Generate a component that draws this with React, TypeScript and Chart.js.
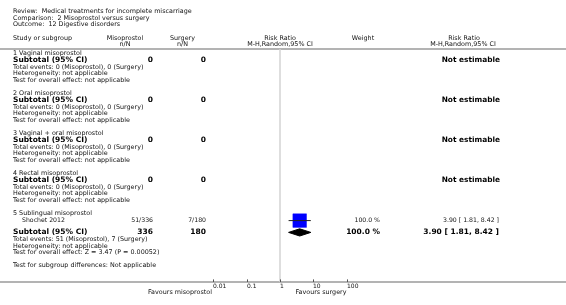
import { useEffect, useRef } from "react";
import { Chart, registerables } from "chart.js";

Chart.register(...registerables);

// ---------------- data ----------------
const titleLines = [
  "Review:  Medical treatments for incomplete miscarriage",
  "Comparison:  2 Misoprostol versus surgery",
  "Outcome:  12 Digestive disorders",
];
const groupLabel1 = "Misoprostol";
const groupLabel2 = "Surgery";

const subgroupNames = [
  "1 Vaginal misoprostol",
  "2 Oral misoprostol",
  "3 Vaginal + oral misoprostol",
  "4 Rectal misoprostol",
  "5 Sublingual misoprostol",
];
const subgroupTotalMiso = [0, 0, 0, 0, 336];
const subgroupTotalSurg = [0, 0, 0, 0, 180];
const subgroupEventsMiso = [0, 0, 0, 0, 51];
const subgroupEventsSurg = [0, 0, 0, 0, 7];
const subgroupHeterogeneity = [
  "not applicable",
  "not applicable",
  "not applicable",
  "not applicable",
  "not applicable",
];
const subgroupOverallEffect = [
  "not applicable",
  "not applicable",
  "not applicable",
  "not applicable",
  "Z = 3.47 (P = 0.00052)",
];
const subgroupRR: (number | null)[] = [null, null, null, null, 3.9];
const subgroupLo: (number | null)[] = [null, null, null, null, 1.81];
const subgroupHi: (number | null)[] = [null, null, null, null, 8.42];
const subgroupWeight: (number | null)[] = [null, null, null, null, 100.0];

const studyNames = ["Shochet 2012"];
const studyGroup = [4];
const studyEventsMiso = [51];
const studyTotalMiso = [336];
const studyEventsSurg = [7];
const studyTotalSurg = [180];
const studyRR = [3.9];
const studyLo = [1.81];
const studyHi = [8.42];
const studyWeight = [100.0];

const tickValues = [0.01, 0.1, 1, 10, 100];
const tickLabels = ["0.01", "0.1", "1", "10", "100"];
const subgroupDiffText = "Test for subgroup differences: Not applicable";
const favoursLeft = "Favours misoprostol";
const favoursRight = "Favours surgery";

// ---------------- layout ----------------
const W = 566;
const H = 305;
const PX_PER_DECADE = 33.3;
const NULL_PX = 280;
const X_MIN = Math.pow(10, -NULL_PX / PX_PER_DECADE);
const X_MAX = Math.pow(10, (W - NULL_PX) / PX_PER_DECADE);

const HEADER_RULE_Y = 49;
const AXIS_RULE_Y = 282;
const GROUP_Y = [53.3, 93.3, 133.3, 173.3, 213.8];
const STUDY_ROW_GAP = 6.8;
const FONT = '"DejaVu Sans", Verdana, sans-serif';

function fmt(n: number) {
  return n.toFixed(2);
}

function groupRows(g: number) {
  const top = GROUP_Y[g];
  const nStudies = studyGroup.filter((s) => s === g).length;
  const studyStart = top + STUDY_ROW_GAP;
  const sub = nStudies > 0 ? studyStart + STUDY_ROW_GAP * (nStudies - 1) + 11.8 : top + 6.7;
  return {
    top,
    studyStart,
    sub,
    total: sub + 7,
    het: sub + 13.8,
    test: sub + 20.2,
  };
}

function studyY(i: number) {
  const g = studyGroup[i];
  const idx = studyGroup.slice(0, i).filter((s) => s === g).length;
  return groupRows(g).studyStart + idx * STUDY_ROW_GAP;
}

export default function App() {
  const ref = useRef<HTMLCanvasElement | null>(null);

  useEffect(() => {
    if (!ref.current) return;

    const datasets: any[] = [];
    // CI lines (drawn on top of squares)
    studyNames.forEach((_, i) => {
      const y = studyY(i);
      datasets.push({
        data: [
          { x: studyLo[i], y },
          { x: studyHi[i], y },
        ],
        showLine: true,
        borderColor: "#222",
        borderWidth: 1,
        pointRadius: 0,
      });
    });
    // squares
    studyNames.forEach((_, i) => {
      const y = studyY(i);
      datasets.push({
        data: [{ x: studyRR[i], y }],
        pointStyle: "rect",
        pointRadius: 9.6 * Math.sqrt(studyWeight[i] / 100),
        backgroundColor: "#0000ff",
        borderColor: "#0000ff",
        borderWidth: 0.5,
      });
    });
    // diamonds
    subgroupRR.forEach((rr, g) => {
      if (rr == null) return;
      const y = groupRows(g).sub;
      const lo = subgroupLo[g] as number;
      const hi = subgroupHi[g] as number;
      datasets.push({
        data: [
          { x: lo, y },
          { x: rr, y: y - 3.6 },
          { x: hi, y },
          { x: rr, y: y + 3.6 },
          { x: lo, y },
        ],
        showLine: true,
        fill: "shape",
        backgroundColor: "#000",
        borderColor: "#000",
        borderWidth: 1,
        pointRadius: 0,
        tension: 0,
      });
    });
    // null line
    datasets.push({
      data: [
        { x: 1, y: HEADER_RULE_Y },
        { x: 1, y: AXIS_RULE_Y },
      ],
      showLine: true,
      borderColor: "#d4d4d4",
      borderWidth: 1.5,
      pointRadius: 0,
    });
    // header rule & axis rule
    [HEADER_RULE_Y, AXIS_RULE_Y].forEach((y) => {
      datasets.push({
        data: [
          { x: X_MIN, y },
          { x: X_MAX, y },
        ],
        showLine: true,
        borderColor: "#9a9a9a",
        borderWidth: 1.5,
        pointRadius: 0,
      });
    });

    const textPlugin = {
      id: "forestText",
      afterDraw(chart: any) {
        const ctx: CanvasRenderingContext2D = chart.ctx;
        const xs = chart.scales.x;
        const ys = chart.scales.y;
        const Y = (v: number) => ys.getPixelForValue(v);
        const text = (
          s: string,
          x: number,
          y: number,
          align: CanvasTextAlign,
          size: number,
          bold = false,
          color = "#111"
        ) => {
          ctx.font = `${bold ? "bold " : ""}${size}px ${FONT}`;
          ctx.fillStyle = color;
          ctx.textAlign = align;
          ctx.textBaseline = "middle";
          ctx.fillText(s, x, Y(y));
        };
        ctx.save();
        // titles
        titleLines.forEach((t, i) => text(t, 13, 11.6 + i * 6.4, "left", 6.4));
        // headers
        text("Study or subgroup", 13, 38.3, "left", 6.4);
        text(groupLabel1, 125, 38.3, "center", 6.4);
        text("n/N", 125, 44.3, "center", 6.4);
        text(groupLabel2, 182.5, 38.3, "center", 6.4);
        text("n/N", 182.5, 44.3, "center", 6.4);
        text("Risk Ratio", NULL_PX, 38.3, "center", 6.4);
        text("M-H,Random,95% CI", NULL_PX, 44.3, "center", 6.4);
        text("Weight", 363, 38.3, "center", 6.4);
        text("Risk Ratio", 464, 38.3, "center", 6.4);
        text("M-H,Random,95% CI", 463, 44.3, "center", 6.4);

        // studies
        studyNames.forEach((n, i) => {
          const y = studyY(i);
          text(n, 22, y, "left", 6.2);
          text(`${studyEventsMiso[i]}/${studyTotalMiso[i]}`, 153, y, "right", 6.2);
          text(`${studyEventsSurg[i]}/${studyTotalSurg[i]}`, 206, y, "right", 6.2);
          text(`${studyWeight[i].toFixed(1)} %`, 380, y, "right", 6.2);
          text(`${studyRR[i].toFixed(2)} [ ${fmt(studyLo[i])}, ${fmt(studyHi[i])} ]`, 499, y, "right", 6.2);
        });

        // subgroups
        subgroupNames.forEach((n, g) => {
          const r = groupRows(g);
          text(n, 13, r.top, "left", 6.4);
          text("Subtotal (95% CI)", 13, r.sub, "left", 7.5, true, "#000");
          text(String(subgroupTotalMiso[g]), 153, r.sub, "right", 7.5, true, "#000");
          text(String(subgroupTotalSurg[g]), 206, r.sub, "right", 7.5, true, "#000");
          const rr = subgroupRR[g];
          if (rr == null) {
            text("Not estimable", 500, r.sub, "right", 7.4, true, "#000");
          } else {
            text(`${(subgroupWeight[g] as number).toFixed(1)} %`, 380, r.sub, "right", 7.5, true, "#000");
            text(
              `${rr.toFixed(2)} [ ${fmt(subgroupLo[g] as number)}, ${fmt(subgroupHi[g] as number)} ]`,
              499,
              r.sub,
              "right",
              7.5,
              true,
              "#000"
            );
          }
          text(
            `Total events: ${subgroupEventsMiso[g]} (Misoprostol), ${subgroupEventsSurg[g]} (Surgery)`,
            13,
            r.total,
            "left",
            6.4
          );
          text(`Heterogeneity: ${subgroupHeterogeneity[g]}`, 13, r.het, "left", 6.4);
          text(`Test for overall effect: ${subgroupOverallEffect[g]}`, 13, r.test, "left", 6.4);
        });

        text(subgroupDiffText, 13, 265.7, "left", 6.4);

        // axis ticks
        ctx.strokeStyle = "#555";
        ctx.lineWidth = 1;
        tickValues.forEach((v, i) => {
          const px = Math.round(xs.getPixelForValue(v)) + 0.5;
          ctx.beginPath();
          ctx.moveTo(px, Y(AXIS_RULE_Y - 2.6));
          ctx.lineTo(px, Y(AXIS_RULE_Y));
          ctx.stroke();
          text(tickLabels[i], px - 0.5, 286.6, "left", 6);
        });
        text(favoursLeft, 180, 292, "center", 6.4);
        text(favoursRight, 321, 292, "center", 6.4);
        ctx.restore();
      },
    };

    const chart = new Chart(ref.current, {
      type: "scatter",
      data: { datasets },
      options: {
        animation: false,
        responsive: false,
        devicePixelRatio: 1,
        layout: { padding: 0, autoPadding: false },
        plugins: { legend: { display: false }, tooltip: { enabled: false } },
        scales: {
          x: { type: "logarithmic", min: X_MIN, max: X_MAX, display: false },
          y: { type: "linear", min: 0, max: H, reverse: true, display: false },
        },
      },
      plugins: [textPlugin],
    });
    return () => chart.destroy();
  }, []);

  return (
    <div style={{ position: "absolute", left: 0, top: 0, width: W, height: H, background: "#fff" }}>
      <canvas ref={ref} width={W} height={H} style={{ width: W, height: H, display: "block" }} />
    </div>
  );
}
